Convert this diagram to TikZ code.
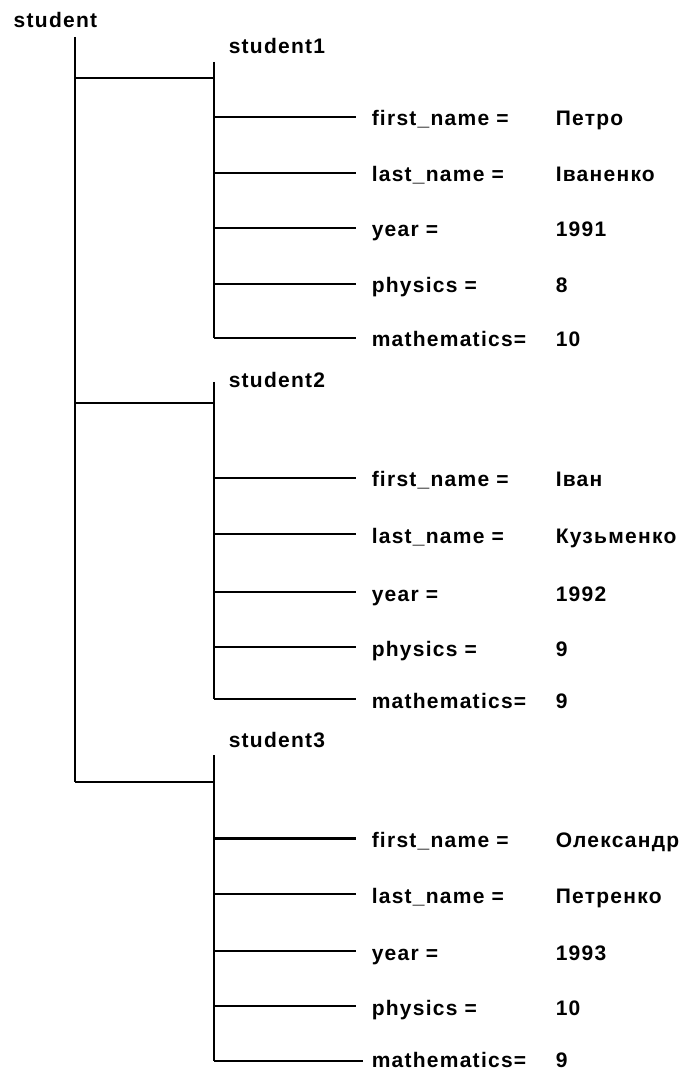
\documentclass[tikz,border=0pt]{standalone}
\usepackage{fontspec}
\setmainfont{Liberation Sans}[LetterSpace=6]
\begin{document}
\begin{tikzpicture}[x=0.5pt,y=-0.5pt, line width=0.75pt,
  txt/.style={anchor=base west, inner sep=0pt, font=\fontsize{10.5}{12}\selectfont\bfseries}]
\useasboundingbox (0,0) rectangle (682,1068);
% root
\node[txt] (root) at (13,28) {student};
\coordinate (rtop) at (75,37);
\coordinate (rbot) at (75,782);
\draw (rtop) -- (rbot);

% student1
\node[txt] (s1) at (228,54) {student1};
\coordinate (s1top) at (214,62);
\coordinate (s1bot) at (214,338);
\coordinate (s1j) at (214,78);
\coordinate (r1) at (75,78);
\draw (r1) -- (s1j);
\draw (s1top) -- (s1bot);
\foreach \k/\y/\lab/\val/\xe in {1/117/{first\_name =}/{Петро}/356, 2/173/{last\_name =}/{Іваненко}/356, 3/228/{year =}/{1991}/356, 4/284/{physics =}/{8}/356, 5/338/{mathematics=}/{10}/356}{
  \coordinate (s1b\k) at (214,\y);
  \coordinate (s1e\k) at (\xe,\y);
  \draw (s1b\k) -- (s1e\k);
  \node[txt] (s1l\k) at (371,\y+9) {\lab};
  \node[txt] (s1v\k) at (555,\y+9) {\val};
}

% student2
\node[txt] (s2) at (228,388) {student2};
\coordinate (s2top) at (214,382);
\coordinate (s2bot) at (214,699);
\coordinate (s2j) at (214,403);
\coordinate (r2) at (75,403);
\draw (r2) -- (s2j);
\draw (s2top) -- (s2bot);
\foreach \k/\y/\lab/\val/\xe in {1/478/{first\_name =}/{Іван}/356, 2/534/{last\_name =}/{Кузьменко}/356, 3/592/{year =}/{1992}/356, 4/647/{physics =}/{9}/356, 5/699/{mathematics=}/{9}/356}{
  \coordinate (s2b\k) at (214,\y);
  \coordinate (s2e\k) at (\xe,\y);
  \draw (s2b\k) -- (s2e\k);
  \node[txt] (s2l\k) at (371,\y+9) {\lab};
  \node[txt] (s2v\k) at (555,\y+9) {\val};
}

% student3
\node[txt] (s3) at (228,747) {student3};
\coordinate (s3top) at (214,755);
\coordinate (s3bot) at (214,1061);
\coordinate (s3j) at (214,782);
\draw (rbot) -- (s3j);
\draw (s3top) -- (s3bot);
\foreach \k/\y/\lab/\val/\xe/\w/\dy in {1/838/{first\_name =}/{Олександр}/356/1.5pt/9, 2/894/{last\_name =}/{Петренко}/356/0.75pt/9, 3/951/{year =}/{1993}/356/0.75pt/9, 4/1006/{physics =}/{10}/356/0.75pt/9, 5/1061/{mathematics=}/{9}/363/0.75pt/6}{
  \coordinate (s3b\k) at (214,\y);
  \coordinate (s3e\k) at (\xe,\y);
  \draw[line width=\w] (s3b\k) -- (s3e\k);
  \node[txt, text depth=0pt] (s3l\k) at (371,\y+\dy) {\lab};
  \node[txt, text depth=0pt] (s3v\k) at (555,\y+\dy) {\val};
}
\end{tikzpicture}
\end{document}
